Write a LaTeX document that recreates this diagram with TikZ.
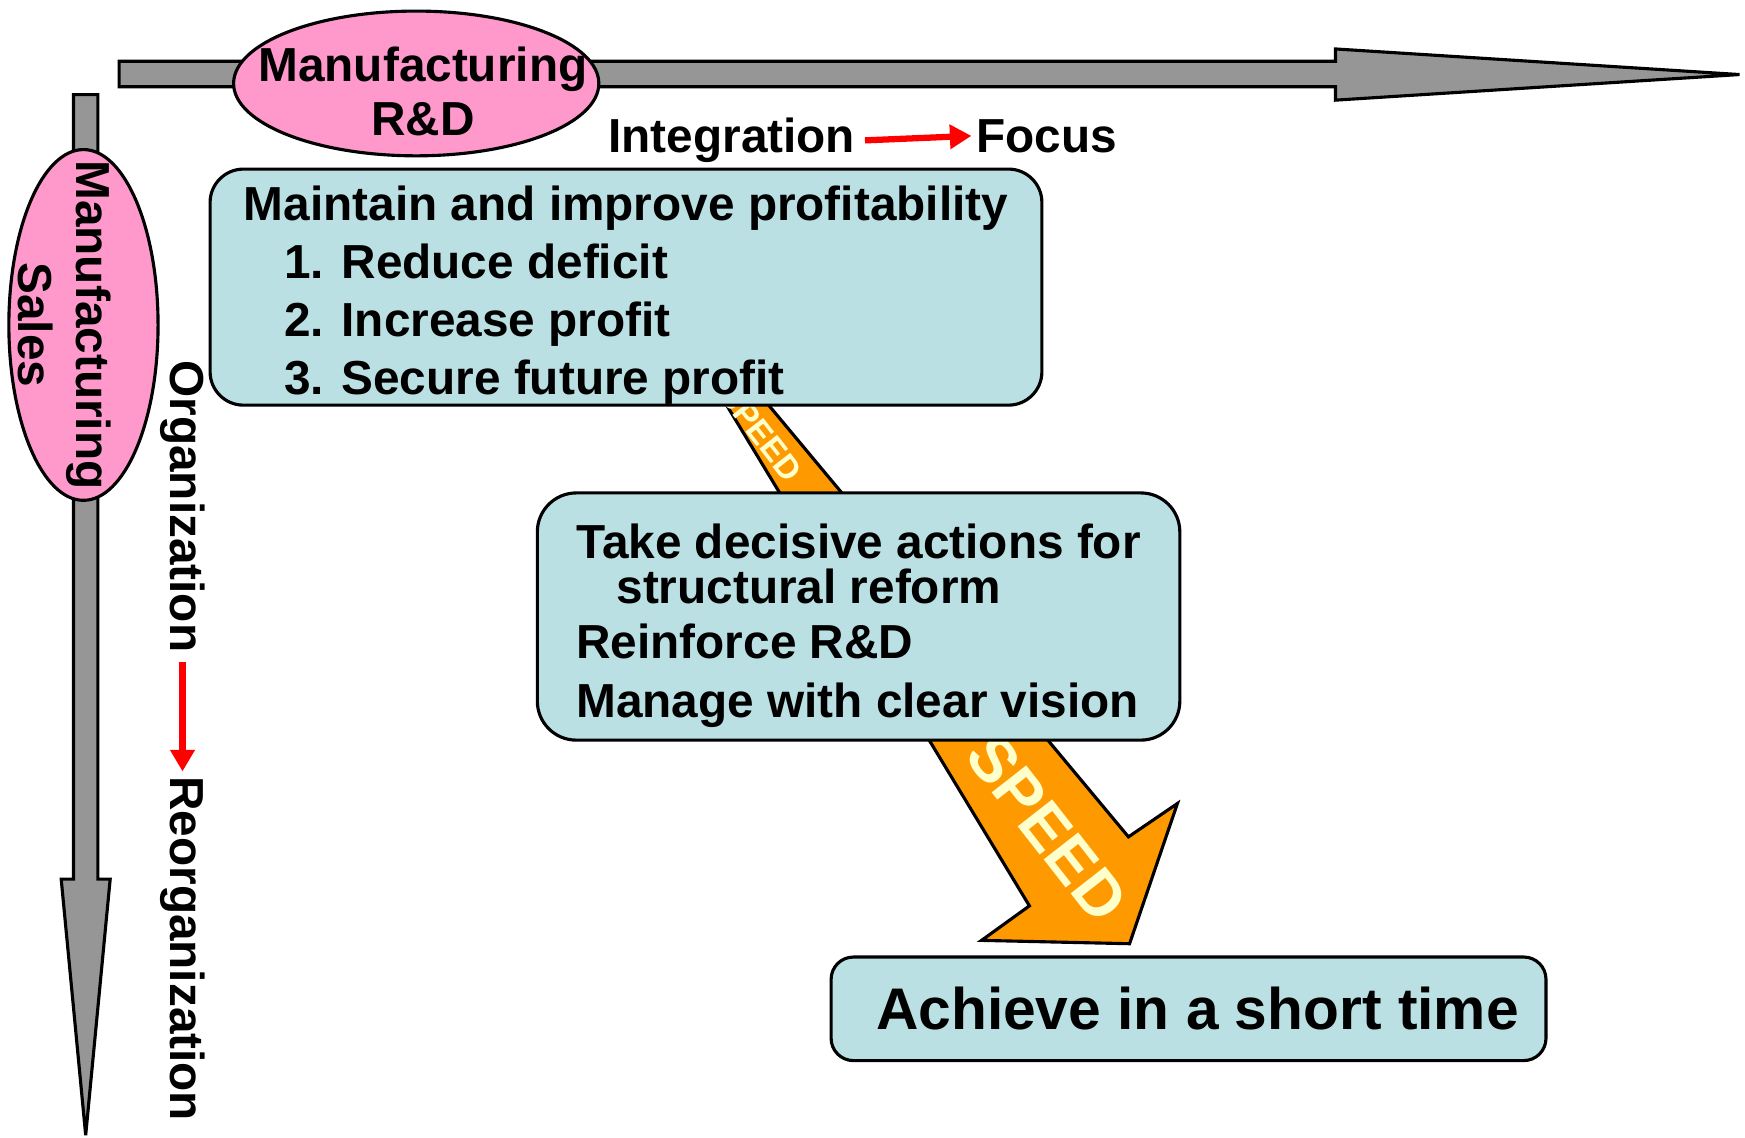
\documentclass[tikz,border=0pt]{standalone}
\usepackage{fontspec}
\setmainfont{Liberation Sans}
\usetikzlibrary{shapes.geometric, arrows.meta, positioning}

\definecolor{boxblue}{RGB}{187,224,227}
\definecolor{rdpink}{RGB}{255,153,204}
\definecolor{axisgray}{RGB}{150,150,150}
\definecolor{speedorange}{RGB}{255,153,0}
\definecolor{speedtext}{RGB}{255,255,204}

\begin{document}
\begin{tikzpicture}[x=0.01cm,y=-0.01cm,>={Triangle[width=6pt,length=5.5pt]},
        every node/.style={font=\fontsize{12.2}{14.8}\selectfont\bfseries},
        plan/.style={draw,line width=0.8pt,fill=boxblue,rounded corners=0.3cm,align=left,inner xsep=0.28cm,inner ysep=0pt},
        pinkoval/.style={draw,line width=0.8pt,fill=rdpink,ellipse,inner sep=0pt},
        grayaxis/.style={draw,line width=0.8pt,fill=axisgray},
        redarrow/.style={->,red,line width=1.6pt,shorten >=-2.3pt,shorten <=-1pt},
        speedlbl/.style={text=speedtext,font=\fontsize{#1}{#1}\selectfont\bfseries,rotate=-52}]

        \useasboundingbox (0,0) rectangle (1568,1022);

        % the two axes
        \draw[grayaxis] (107,55) -- (1200,55) -- (1200,44) -- (1563,67) -- (1200,90) -- (1200,78) -- (107,78) -- cycle;
        \draw[grayaxis] (66,85) -- (88,85) -- (88,790) -- (99,790) -- (77,1020) -- (55,790) -- (66,790) -- cycle;

        \node[pinkoval, minimum width=3.28cm, minimum height=1.3cm] (rd) at (374,75) {};
        \node[align=center] (rdtext) at (380,82) {Manufacturing\\[-0.85pt]R\&D};
        \node[pinkoval, minimum width=1.34cm, minimum height=3.15cm] (sales) at (75,292) {};
        \node[align=center, rotate=-90] (salestext) at (58,292) {Manufacturing\\Sales};

        % speed arrow
        \draw[line width=0.8pt, fill=speedorange] (590,260) -- (925,814) -- (882,845) -- (1015,848)
                -- (1058,722) -- (1014,752) -- (604,260) -- cycle;
        \node[speedlbl=8.4] (speed1) at (684,389) {SPEED};
        \node[speedlbl=16.3] (speed2) at (941,744) {SPEED};

        % the three steps
        \node[plan, minimum width=7.47cm, minimum height=2.12cm] (profit) at (562.5,258)
                {\rule{0pt}{12.9pt}Maintain and improve profitability\\
                \hspace*{0.36cm}1. Reduce deficit\\
                \hspace*{0.36cm}2. Increase profit\\
                \hspace*{0.36cm}3. Secure future profit};
        \node[plan, rounded corners=0.35cm, minimum width=5.77cm, minimum height=2.22cm] (reform) at (771.5,554)
                {\rule{0pt}{13.45pt}Take decisive actions for\\[-3.1pt]
                \hspace*{0.36cm}structural reform\\[-0.9pt]
                Reinforce R\&D\\[0.3pt]
                Manage with clear vision};
        \node[plan, rounded corners=0.2cm, inner xsep=0.2cm, minimum width=6.42cm, minimum height=0.93cm,
                font=\fontsize{15}{18}\selectfont\bfseries] (short) at (1068,906.5) {\hspace*{0.16cm}Achieve in a short time};

        % integration -> focus, organization -> reorganization
        \node (integ) at (657.5,126) {Integration};
        \node (focus) [base right=0.84cm of integ] {Focus};
        \node[rotate=-90] (org) at (164,455) {Organization};
        \node[rotate=-90] (reorg) at (164,852.5) {Reorganization};

        \draw[redarrow] (integ.east) -- (focus.west);
        \draw[redarrow] (org.east) -- (reorg.west);
    \end{tikzpicture}
\end{document}
